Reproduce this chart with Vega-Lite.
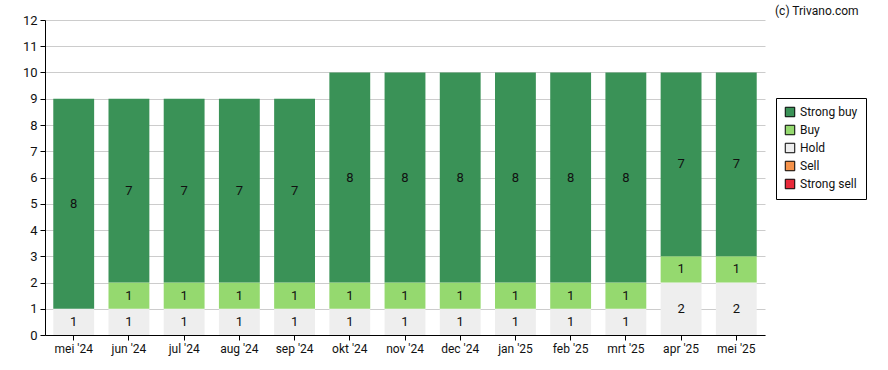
{
  "$schema": "https://vega.github.io/schema/vega-lite/v6.json",
  "autosize": {"type": "none"},
  "padding": {"left": 45, "top": 20, "right": 123, "bottom": 35},
  "width": 720,
  "height": 315,
  "background": "white",
  "config": {"view": {"stroke": null}},
  "title": {"text": "(c) Trivano.com", "anchor": "end", "frame": "group", "align": "left", "baseline": "alphabetic", "dx": 10, "offset": -13, "fontSize": 12, "fontWeight": "normal", "font": "Roboto", "color": "#111"},
  "data": {"values": [
    {"month": "mei '24", "rating": "Hold", "count": 1},
    {"month": "mei '24", "rating": "Strong buy", "count": 8},
    {"month": "jun '24", "rating": "Hold", "count": 1},
    {"month": "jun '24", "rating": "Buy", "count": 1},
    {"month": "jun '24", "rating": "Strong buy", "count": 7},
    {"month": "jul '24", "rating": "Hold", "count": 1},
    {"month": "jul '24", "rating": "Buy", "count": 1},
    {"month": "jul '24", "rating": "Strong buy", "count": 7},
    {"month": "aug '24", "rating": "Hold", "count": 1},
    {"month": "aug '24", "rating": "Buy", "count": 1},
    {"month": "aug '24", "rating": "Strong buy", "count": 7},
    {"month": "sep '24", "rating": "Hold", "count": 1},
    {"month": "sep '24", "rating": "Buy", "count": 1},
    {"month": "sep '24", "rating": "Strong buy", "count": 7},
    {"month": "okt '24", "rating": "Hold", "count": 1},
    {"month": "okt '24", "rating": "Buy", "count": 1},
    {"month": "okt '24", "rating": "Strong buy", "count": 8},
    {"month": "nov '24", "rating": "Hold", "count": 1},
    {"month": "nov '24", "rating": "Buy", "count": 1},
    {"month": "nov '24", "rating": "Strong buy", "count": 8},
    {"month": "dec '24", "rating": "Hold", "count": 1},
    {"month": "dec '24", "rating": "Buy", "count": 1},
    {"month": "dec '24", "rating": "Strong buy", "count": 8},
    {"month": "jan '25", "rating": "Hold", "count": 1},
    {"month": "jan '25", "rating": "Buy", "count": 1},
    {"month": "jan '25", "rating": "Strong buy", "count": 8},
    {"month": "feb '25", "rating": "Hold", "count": 1},
    {"month": "feb '25", "rating": "Buy", "count": 1},
    {"month": "feb '25", "rating": "Strong buy", "count": 8},
    {"month": "mrt '25", "rating": "Hold", "count": 1},
    {"month": "mrt '25", "rating": "Buy", "count": 1},
    {"month": "mrt '25", "rating": "Strong buy", "count": 8},
    {"month": "apr '25", "rating": "Hold", "count": 2},
    {"month": "apr '25", "rating": "Buy", "count": 1},
    {"month": "apr '25", "rating": "Strong buy", "count": 7},
    {"month": "mei '25", "rating": "Hold", "count": 2},
    {"month": "mei '25", "rating": "Buy", "count": 1},
    {"month": "mei '25", "rating": "Strong buy", "count": 7}
  ]},
  "transform": [
    {"calculate": "indexof(['Hold','Buy','Strong buy','Sell','Strong sell'], datum.rating)", "as": "rank"},
    {"stack": "count", "groupby": ["month"], "sort": [{"field": "rank", "order": "ascending"}], "as": ["y0", "y1"]},
    {"calculate": "(datum.y0 + datum.y1) / 2", "as": "ymid"}
  ],
  "encoding": {
    "x": {
      "field": "month", "type": "nominal", "sort": null,
      "scale": {"paddingInner": 0.26, "paddingOuter": 0.15},
      "axis": {"title": null, "labelAngle": 0, "labelFont": "Roboto", "labelFontSize": 12, "labelColor": "#111", "domainColor": "#000", "tickColor": "#000", "tickSize": 5, "labelPadding": 3}
    }
  },
  "layer": [
    {
      "mark": {"type": "bar"},
      "encoding": {
        "y": {"field": "y0", "type": "quantitative", "scale": {"domain": [0, 12]},
          "axis": {"title": null, "values": [0,1,2,3,4,5,6,7,8,9,10,11,12], "labelOverlap": false, "grid": true, "gridColor": "#cccccc", "labelFont": "Roboto", "labelFontSize": 13, "labelColor": "#111", "domainColor": "#000", "tickColor": "#000", "tickSize": 5, "labelPadding": 3}},
        "y2": {"field": "y1"},
        "color": {
          "field": "rating", "type": "nominal",
          "scale": {"domain": ["Strong buy", "Buy", "Hold", "Sell", "Strong sell"], "range": ["#3a9257", "#95d96f", "#eeeeee", "#f5924a", "#e8293a"]},
          "legend": {"title": null, "orient": "none", "legendX": 731, "legendY": 78, "symbolType": "square", "symbolSize": 90, "symbolStrokeColor": "#000", "symbolStrokeWidth": 1, "labelFont": "Roboto", "labelFontSize": 12, "labelColor": "#111", "strokeColor": "#000", "padding": 8, "rowPadding": 4, "fillColor": "white"}
        }
      }
    },
    {
      "mark": {"type": "text", "font": "Roboto", "fontSize": 13, "color": "#111", "baseline": "middle"},
      "encoding": {
        "y": {"field": "ymid", "type": "quantitative",
          "axis": {"title": null, "values": [0,1,2,3,4,5,6,7,8,9,10,11,12], "labelOverlap": false, "grid": true, "gridColor": "#cccccc", "labelFont": "Roboto", "labelFontSize": 13, "labelColor": "#111", "domainColor": "#000", "tickColor": "#000", "tickSize": 5, "labelPadding": 3}},
        "text": {"field": "count", "type": "quantitative"}
      }
    }
  ]
}
